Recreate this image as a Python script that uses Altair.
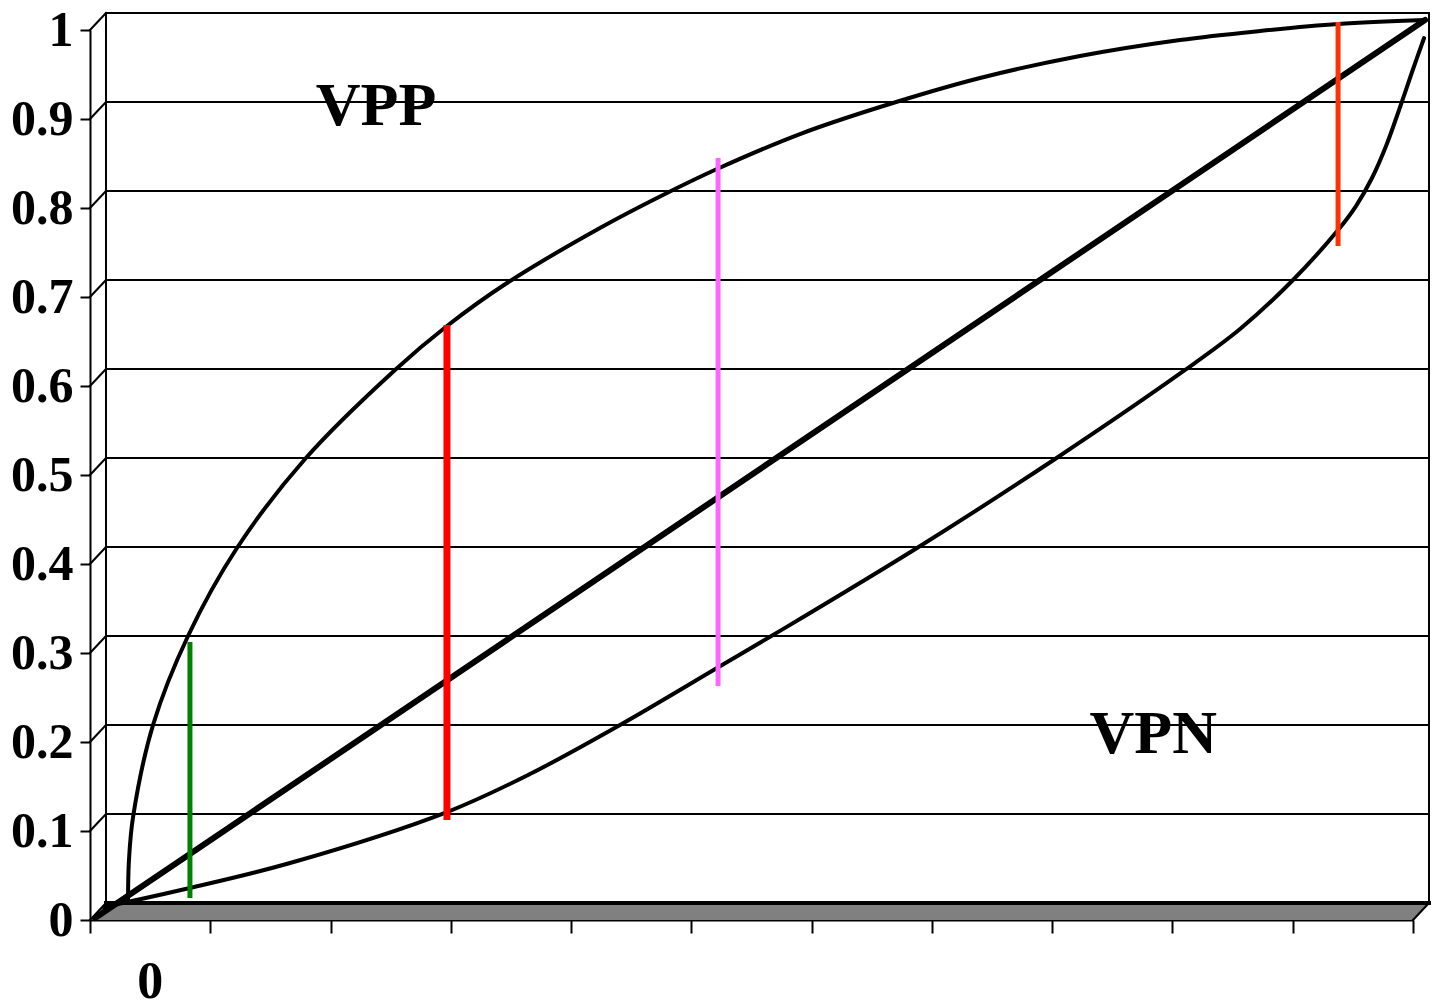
import altair as alt
import pandas as pd

# ---- data ----
Y_TICKS = [0, 0.1, 0.2, 0.3, 0.4, 0.5, 0.6, 0.7, 0.8, 0.9, 1]
X_TICKS = [0, 0.1, 0.2, 0.3, 0.4, 0.5, 0.6, 0.7, 0.8, 0.9, 1.0, 1.1]
X_LABELS = ["0"]
X_LABEL_POS = [0.05]

VPP_X = [0.0316, 0.0324, 0.0358, 0.0524, 0.0815, 0.1222, 0.1788, 0.2536, 0.2968,
         0.3467, 0.4240, 0.4764, 0.5213, 0.5903, 0.6569, 0.7400, 0.8231, 0.9063,
         0.9728, 1.0377, 1.1100]
VPP_Y = [0.0225, 0.0674, 0.1157, 0.2191, 0.3191, 0.4180, 0.5180, 0.6180, 0.6674,
         0.7157, 0.7775, 0.8146, 0.8438, 0.8831, 0.9135, 0.9461, 0.9708, 0.9888,
         0.9989, 1.0067, 1.0112]

VPN_X = [0.0116, 0.0831, 0.1663, 0.2968, 0.3658, 0.4407, 0.5213, 0.5679, 0.6876,
         0.8024, 0.9105, 0.9562, 0.9994, 1.0377, 1.0526, 1.0659, 1.0776, 1.0884,
         1.0992, 1.1092]
VPN_Y = [0.0146, 0.0360, 0.0640, 0.1213, 0.1640, 0.2191, 0.2831, 0.3202, 0.4180,
         0.5180, 0.6180, 0.6640, 0.7180, 0.7753, 0.8022, 0.8337, 0.8697, 0.9101,
         0.9528, 0.9910]

DIAG_X = [0.0042, 1.1100]
DIAG_Y = [0.0022, 1.0112]

SEG_X = [0.0831, 0.2968, 0.5222, 1.0377]
SEG_Y1 = [0.3124, 0.6685, 0.8562, 1.0090]
SEG_Y2 = [0.0247, 0.1124, 0.2629, 0.7573]
SEG_COLOR = ["#008000", "#FF0000", "#FF66FF", "#FF3300"]
SEG_W = [5, 7, 5, 5]

NOTE_TEXT = ["VPP", "VPN"]
NOTE_X = [0.2378, 0.884]
NOTE_Y = [0.893, 0.1876]

# depth offset of the 3-D back wall (in data units)
DX = 0.0133
DY = 0.0191
XMAX = 1.1

xs = alt.Scale(domain=[0, XMAX], nice=False, zero=False)
ys = alt.Scale(domain=[0, 1], nice=False, zero=False)


def X(f, **kw):
    return alt.X(f, type="quantitative", scale=xs, **kw)


def Y(f, **kw):
    return alt.Y(f, type="quantitative", scale=ys, **kw)


# floor
floor_df = pd.DataFrame({"y": [0, DY], "x": [0, DX], "x2": [XMAX, XMAX + DX]})
floor = alt.Chart(floor_df).mark_area(orient="horizontal", color="#808080").encode(
    y=Y("y", axis=alt.Axis(values=Y_TICKS, format=".1~f", grid=False, title=None,
                           tickSize=10, tickWidth=2, tickColor="black",
                           domainColor="black", domainWidth=2,
                           labelFont="Liberation Serif", labelFontWeight="bold",
                           labelFontSize=50, labelColor="black", labelPadding=7)),
    x=X("x", axis=alt.Axis(values=X_TICKS, grid=False, title=None, labels=False,
                           tickSize=13, tickWidth=2, tickColor="black",
                           domainColor="black", domainWidth=2)),
    x2="x2",
)

# wall / floor edge segments
seg_rows = []
for v in Y_TICKS[1:]:
    seg_rows.append({"x": DX, "x2": XMAX + DX, "y": v + DY, "y2": v + DY, "w": 2})
for v in Y_TICKS:
    seg_rows.append({"x": 0, "x2": DX, "y": v, "y2": v + DY, "w": 2})
seg_rows.append({"x": DX, "x2": DX, "y": DY, "y2": 1 + DY, "w": 2})
seg_rows.append({"x": XMAX + DX, "x2": XMAX + DX, "y": DY, "y2": 1 + DY, "w": 2})
seg_rows.append({"x": DX, "x2": XMAX + DX, "y": DY, "y2": DY, "w": 4})
seg_rows.append({"x": XMAX, "x2": XMAX + DX, "y": 0, "y2": DY, "w": 2})
walls_df = pd.DataFrame(seg_rows)
walls = alt.Chart(walls_df).mark_rule(color="black", strokeCap="square").encode(
    x=X("x"), x2="x2", y=Y("y"), y2="y2",
    size=alt.Size("w:Q", scale=None, legend=None),
)

# curves
curve_df = pd.concat([
    pd.DataFrame({"x": VPP_X, "y": VPP_Y, "s": "VPP", "w": 4}),
    pd.DataFrame({"x": VPN_X, "y": VPN_Y, "s": "VPN", "w": 4}),
])
curves = alt.Chart(curve_df).mark_line(color="black", interpolate="catmull-rom",
                                       strokeCap="round").encode(
    x=X("x"), y=Y("y"), detail="s:N",
    size=alt.Size("w:Q", scale=None, legend=None),
)
diag_df = pd.DataFrame({"x": DIAG_X, "y": DIAG_Y})
diag = alt.Chart(diag_df).mark_line(color="black", strokeWidth=6,
                                    strokeCap="round").encode(x=X("x"), y=Y("y"))

# coloured vertical segments
seg_df = pd.DataFrame({"x": SEG_X, "y": SEG_Y1, "y2": SEG_Y2, "c": SEG_COLOR, "w": SEG_W})
segs = alt.Chart(seg_df).mark_rule(strokeCap="butt").encode(
    x=X("x"), y=Y("y"), y2="y2",
    color=alt.Color("c:N", scale=None, legend=None),
    size=alt.Size("w:Q", scale=None, legend=None),
)

# annotations
note_df = pd.DataFrame({"t": NOTE_TEXT, "x": NOTE_X, "y": NOTE_Y})
notes = alt.Chart(note_df).mark_text(font="Liberation Serif", fontWeight="bold",
                                     fontSize=62, color="black", align="center",
                                     baseline="alphabetic").encode(
    x=X("x"), y=Y("y"), text="t:N",
)

xl_df = pd.DataFrame({"t": X_LABELS, "x": X_LABEL_POS, "y": [-0.088] * len(X_LABELS)})
xlab = alt.Chart(xl_df).mark_text(font="Liberation Serif", fontWeight="bold",
                                  fontSize=52, color="black", align="center",
                                  baseline="alphabetic").encode(
    x=X("x"), y=Y("y"), text="t:N",
)

chart = alt.layer(floor, walls, curves, diag, segs, notes, xlab).properties(
    width=1323, height=890,
    padding={"left": 82, "top": 22, "right": 18, "bottom": 86},
    autosize=alt.AutoSizeParams(type="none"),
).configure_view(stroke=None)

chart.save("out.html", embed_options={"renderer": "svg", "actions": False})
